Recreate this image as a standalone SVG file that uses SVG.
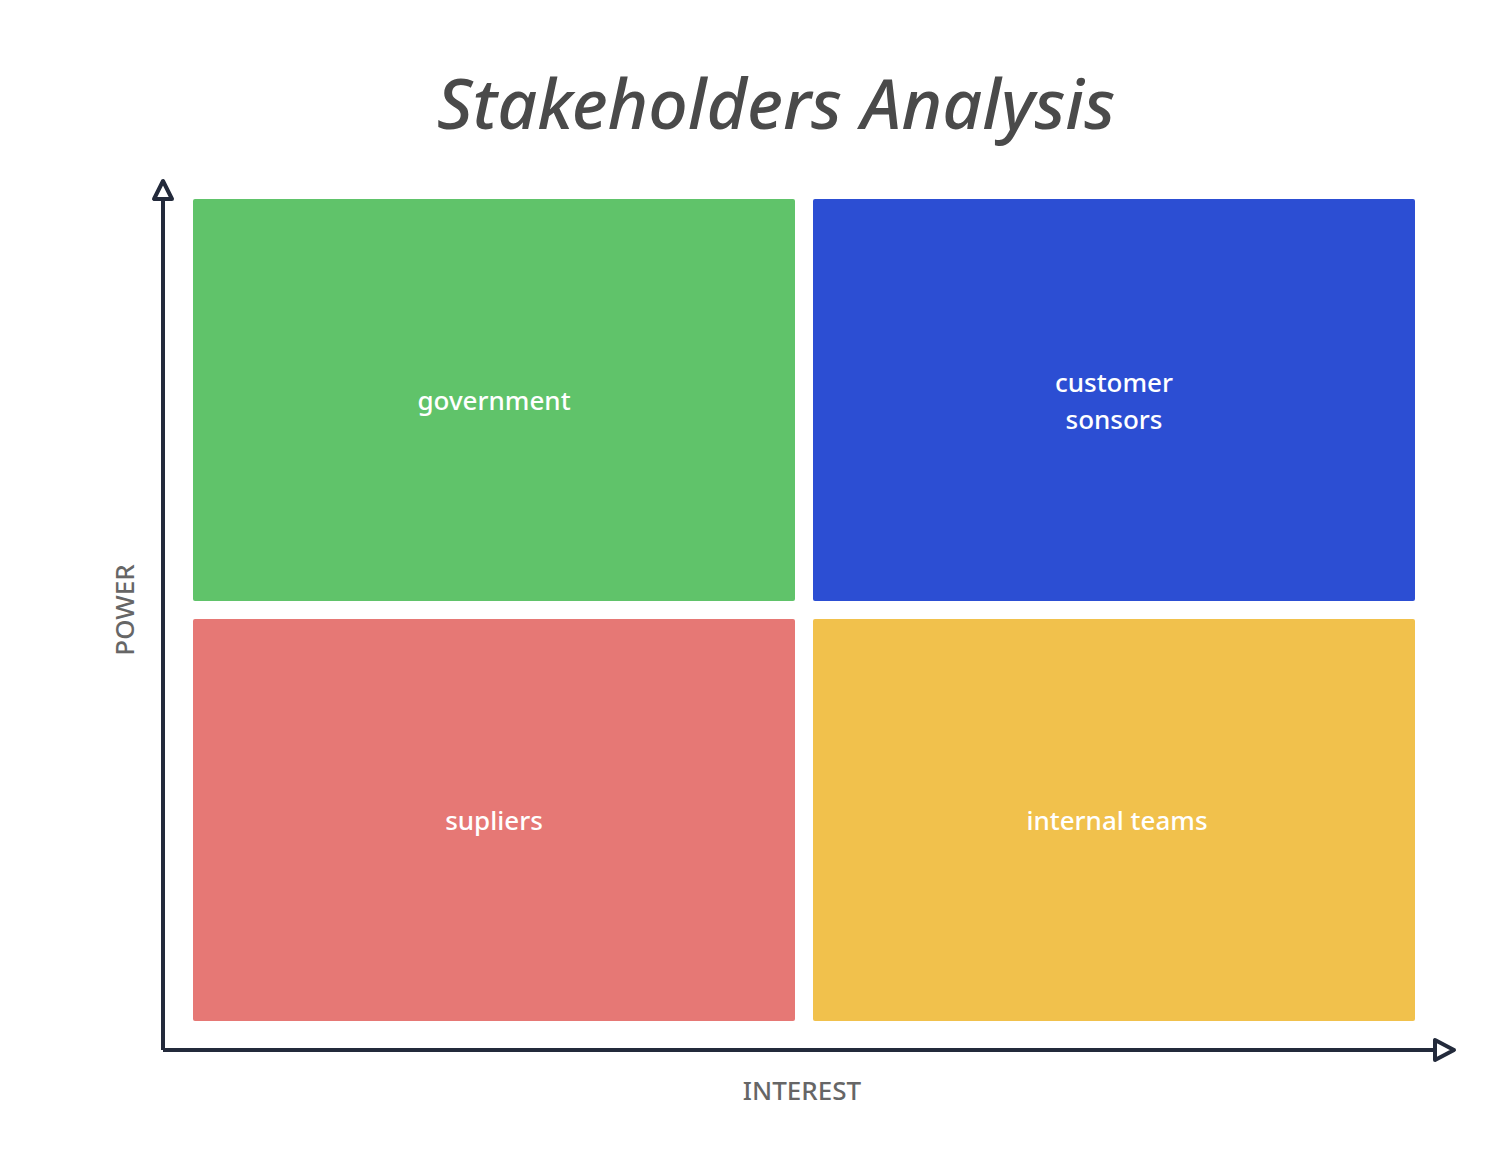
<svg xmlns="http://www.w3.org/2000/svg" width="1492" height="1160" viewBox="0 0 1492 1160">
<defs>
<style>
.title{font-family:"Noto Sans","Open Sans",sans-serif;font-style:italic;font-size:69.5px;font-weight:500;fill:#4a4a4a;word-spacing:1px;}
.lbl{font-family:"Noto Sans","Open Sans",sans-serif;font-size:26px;font-weight:500;fill:#ffffff;text-anchor:middle;}
.axl{font-family:"Noto Sans","Open Sans",sans-serif;font-size:26px;font-weight:500;fill:#666666;text-anchor:middle;}
.ax{stroke:#232a3b;stroke-width:4;fill:none;}
.head{stroke:#232a3b;stroke-width:4;fill:#ffffff;stroke-linejoin:round;}
</style>
</defs>
<rect width="1492" height="1160" fill="#ffffff"/>
<text class="title" x="776" y="129" text-anchor="middle">Stakeholders Analysis</text>
<g id="connectors">
<line class="ax" x1="163" y1="1050" x2="163" y2="199"/>
<polygon class="head" points="163,181 154,199 172,199"/>
<line class="ax" x1="163" y1="1050" x2="1435" y2="1050"/>
<polygon class="head" points="1454,1050 1435,1040 1435,1060"/>
</g>
<g id="government">
<rect x="193" y="199" width="602" height="402" rx="2" fill="#60c36a"/>
<text class="lbl" x="494" y="410">government</text>
</g>
<g id="customer-sonsors">
<rect x="813" y="199" width="602" height="402" rx="2" fill="#2c4ed3"/>
<text class="lbl" x="1114" y="392">customer</text>
<text class="lbl" x="1114" y="429">sonsors</text>
</g>
<g id="supliers">
<rect x="193" y="619" width="602" height="402" rx="2" fill="#e67875"/>
<text class="lbl" x="494" y="830">supliers</text>
</g>
<g id="internal-teams">
<rect x="813" y="619" width="602" height="402" rx="2" fill="#f1c14c"/>
<text class="lbl" x="1117" y="830">internal teams</text>
</g>
<g id="axis-labels">
<text class="axl" x="802" y="1100">INTEREST</text>
<text class="axl" transform="translate(134,610) rotate(-90)">POWER</text>
</g>
</svg>
